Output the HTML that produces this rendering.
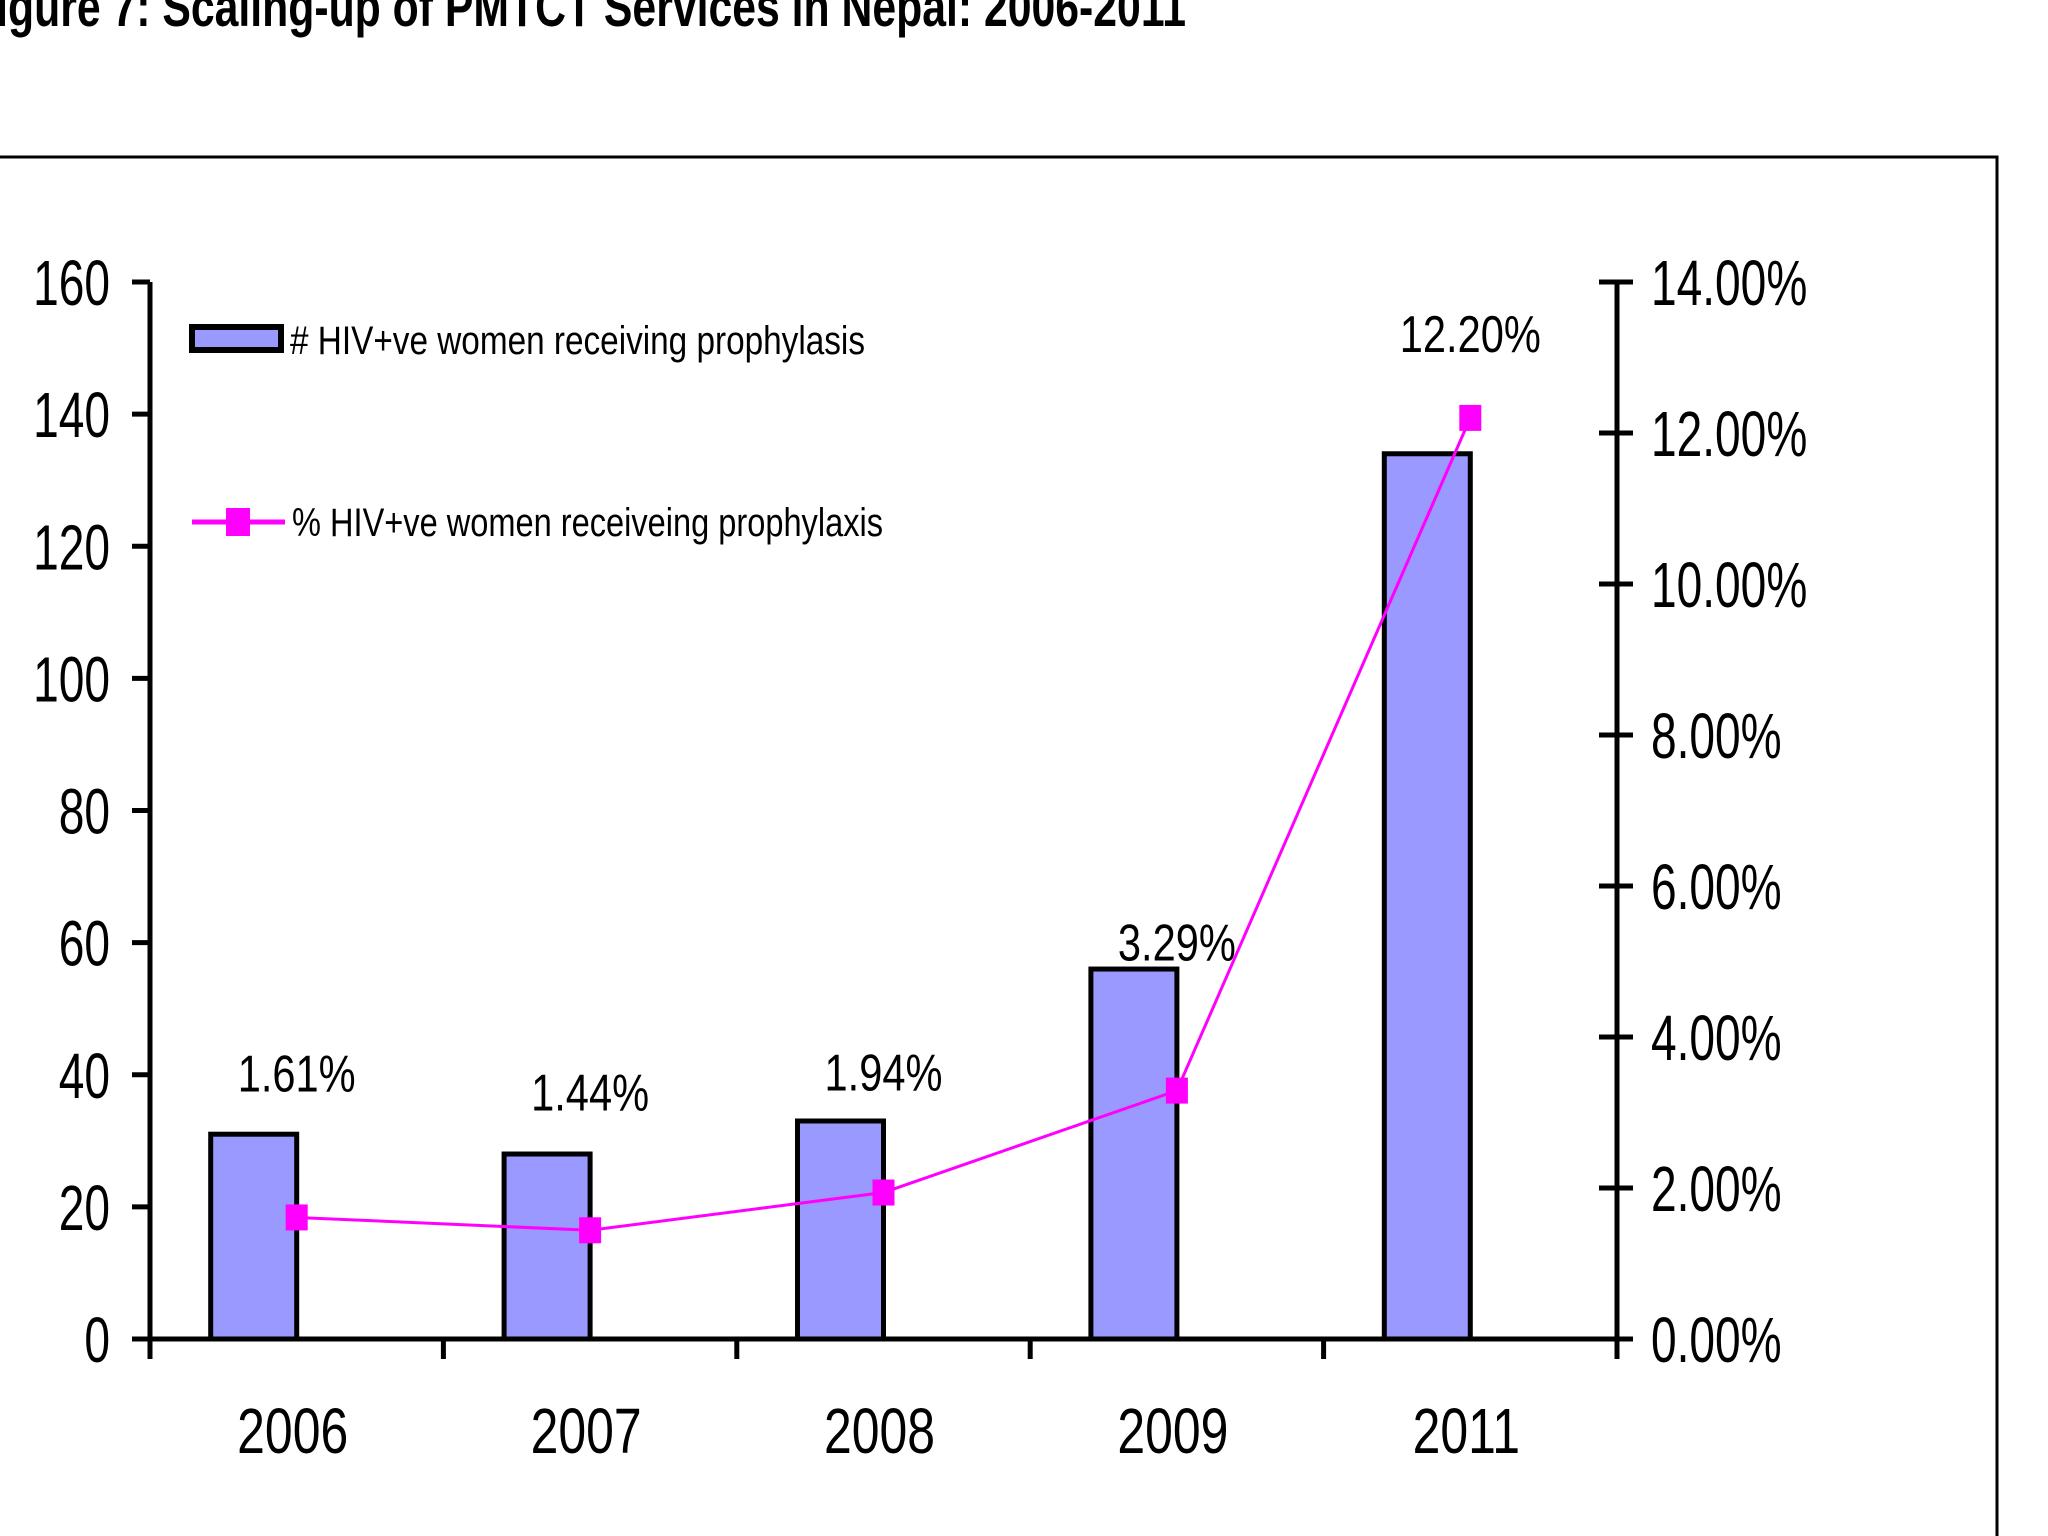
<!DOCTYPE html>
<html><head><meta charset="utf-8"><style>
html,body{margin:0;padding:0;background:#fff;width:2048px;height:1536px;overflow:hidden}
svg{display:block}
text{font-family:"Liberation Sans",sans-serif;fill:#000}
</style></head><body>
<svg id="chart" width="2048" height="1536">
<text x="-30" y="26" font-weight="bold" font-size="56" textLength="1216" lengthAdjust="spacingAndGlyphs">Figure 7: Scaling-up of PMTCT Services in Nepal: 2006-2011</text>
<path d="M0 157 H1997 V1536" fill="none" stroke="#000" stroke-width="3"/>
<g id="plot"></g>
<g>
<rect x="192" y="327" width="89" height="23" fill="#9999ff" stroke="#000" stroke-width="6"/>
<text x="290" y="354" font-size="40" textLength="575" lengthAdjust="spacingAndGlyphs">#  HIV+ve women receiving prophylasis</text>
<line x1="192" y1="522" x2="285" y2="522" stroke="#ff00ff" stroke-width="5"/>
<rect x="226" y="508" width="24" height="28" fill="#ff00ff"/>
<text x="292" y="536" font-size="40" textLength="591" lengthAdjust="spacingAndGlyphs">% HIV+ve women receiveing prophylaxis</text>
</g>
</svg>
<script>
const categories=["2006","2007","2008","2009","2011"];
const counts=[31,28,33,56,134];
const percents=[1.61,1.44,1.94,3.29,12.2];
const percentLabels=["1.61%","1.44%","1.94%","3.29%","12.20%"];
const leftTicks=[0,20,40,60,80,100,120,140,160];
const rightTicks=[0,2,4,6,8,10,12,14];

const NS="http://www.w3.org/2000/svg";
const g=document.getElementById("plot");
const X0=150,X1=1617,Y0=1339,Y1=282;
const cw=(X1-X0)/categories.length;
const yL=v=>Y0-(v/160)*(Y0-Y1);
const yR=v=>Y0-(v/14)*(Y0-Y1);
const xc=i=>X0+cw*(i+0.5);
function el(t,a,txt){const e=document.createElementNS(NS,t);for(const k in a)e.setAttribute(k,a[k]);if(txt!==undefined)e.textContent=txt;g.appendChild(e);return e;}
function narrow(t,f){const L=t.getComputedTextLength();t.setAttribute("textLength",L*f);t.setAttribute("lengthAdjust","spacingAndGlyphs");}

counts.forEach((v,i)=>{
 const e=el("rect",{x:xc(i)-86,y:yL(v),width:86,height:Y0-yL(v),fill:"#9999ff",stroke:"#000","stroke-width":5});
 
 
});
let a=el("line",{x1:X0,y1:Y1,x2:X0,y2:Y0+2,stroke:"#000","stroke-width":5});


a=el("line",{x1:X1,y1:Y1,x2:X1,y2:Y0+2,stroke:"#000","stroke-width":5});


a=el("line",{x1:X0,y1:Y0,x2:X1,y2:Y0,stroke:"#000","stroke-width":5});


leftTicks.forEach(v=>{
 el("line",{x1:X0-18,y1:yL(v),x2:X0,y2:yL(v),stroke:"#000","stroke-width":5});
 const t=el("text",{x:X0-40,y:yL(v)+23,"text-anchor":"end","font-size":64},String(v));
 
 
 narrow(t,0.72);
});
rightTicks.forEach(v=>{
 el("line",{x1:X1-18,y1:yR(v),x2:X1+16,y2:yR(v),stroke:"#000","stroke-width":5});
 const t=el("text",{x:X1+34,y:yR(v)+23,"font-size":64},v.toFixed(2)+"%");
 
 
 narrow(t,0.72);
});
for(let i=0;i<=categories.length;i++){
 el("line",{x1:X0+cw*i,y1:Y0,x2:X0+cw*i,y2:Y0+20,stroke:"#000","stroke-width":5});
}
categories.forEach((c,i)=>{
 const t=el("text",{x:xc(i)-4,y:1453,"text-anchor":"middle","font-size":64},c);
 
 
 narrow(t,0.78);
});
const pts=percents.map((v,i)=>xc(i)+","+yR(v)).join(" ");
const ln=el("polyline",{points:pts,fill:"none",stroke:"#ff00ff","stroke-width":3});


percents.forEach((v,i)=>{
 const m=el("rect",{x:xc(i)-11,y:yR(v)-13,width:22,height:26,fill:"#ff00ff"});
 
 
});
const lblDy=[-146,-140,-122,-150,-86];
percentLabels.forEach((s,i)=>{
 const t=el("text",{x:xc(i),y:yR(percents[i])+lblDy[i]+20,"text-anchor":"middle","font-size":52},s);
 
 
 narrow(t,0.8);
});
</script>
</body></html>
